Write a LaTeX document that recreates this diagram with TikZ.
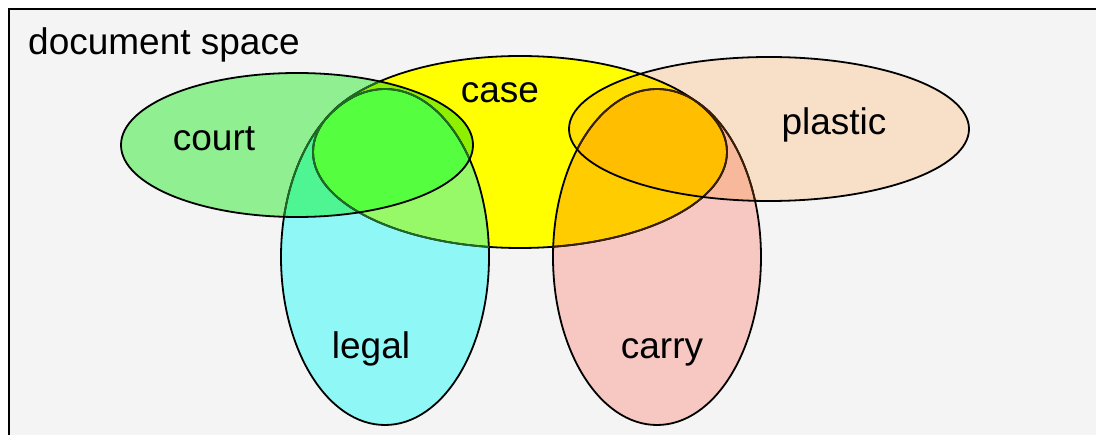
\documentclass[tikz,border=0pt]{standalone}
\usepackage{fontspec}
\setmainfont{Liberation Sans}
\definecolor{bggray}{HTML}{F4F4F4}
\definecolor{ccourt}{HTML}{90EF90}
\definecolor{ccase}{HTML}{FFFF00}
\definecolor{clegal}{HTML}{8FF8F7}
\definecolor{ccarry}{HTML}{F7C8C1}
\definecolor{cplastic}{HTML}{F7DFC8}
\definecolor{ccourtcase}{HTML}{8EF000}
\definecolor{ccourtlegal}{HTML}{4FF592}
\definecolor{ccaselegal}{HTML}{97F968}
\definecolor{ctripleL}{HTML}{55FF3F}
\definecolor{ccasecarry}{HTML}{FFCC00}
\definecolor{ccaseplastic}{HTML}{FFE000}
\definecolor{cplasticcarry}{HTML}{F8B89C}
\definecolor{ctripleR}{HTML}{FFBE00}
\definecolor{dgreen}{HTML}{1E6A26}
\definecolor{dbrown}{HTML}{3A1E06}
\tikzset{
  outline/.style={line width=1.8pt},
  lbl/.style={font=\fontsize{37}{40}\selectfont, inner sep=0pt},
}
\def\pcourt{(297,145) ellipse [x radius=176pt, y radius=72pt]}
\def\pcase{(520,152) ellipse [x radius=207pt, y radius=96pt]}
\def\plegal{(385,257) ellipse [x radius=104pt, y radius=168pt]}
\def\pcarry{(657,257) ellipse [x radius=104pt, y radius=168pt]}
\def\pplastic{(769,129) ellipse [x radius=200pt, y radius=72pt]}
\begin{document}
\begin{tikzpicture}[x=1pt,y=-1pt]
\useasboundingbox (0,0) rectangle (1096,435);
\clip (0,0) rectangle (1096,435);
\fill[white] (0,0) rectangle (1096,435);
\draw[fill=bggray, line width=2pt] (9,8.7) rectangle (1120,460);
% base fills
\fill[ccase] \pcase;
\fill[clegal] \plegal;
\fill[ccourt] \pcourt;
\fill[ccarry] \pcarry;
\fill[cplastic] \pplastic;
% pairwise overlaps
\begin{scope}\clip \pcourt; \fill[ccourtcase] \pcase; \end{scope}
\begin{scope}\clip \pcourt; \fill[ccourtlegal] \plegal; \end{scope}
\begin{scope}\clip \pcase; \fill[ccaselegal] \plegal; \end{scope}
\begin{scope}\clip \pcourt; \clip \pcase; \fill[ctripleL] \plegal; \end{scope}
\begin{scope}\clip \pcase; \fill[ccasecarry] \pcarry; \end{scope}
\begin{scope}\clip \pcase; \fill[ccaseplastic] \pplastic; \end{scope}
\begin{scope}\clip \pplastic; \fill[cplasticcarry] \pcarry; \end{scope}
\begin{scope}\clip \pcase; \clip \pplastic; \fill[ctripleR] \pcarry; \end{scope}
% outlines
\draw[outline] \pcase;
\draw[outline] \plegal;
\draw[outline] \pcarry;
\begin{scope}\clip \pcourt; \draw[outline, dgreen] \pcase; \draw[outline, dgreen] \plegal; \end{scope}
\begin{scope}\clip \plegal; \draw[outline, dgreen] \pcase; \end{scope}
\begin{scope}\clip \pcarry; \draw[outline, dbrown] \pcase; \end{scope}
\begin{scope}\clip \pplastic; \draw[outline, dbrown] \pcarry; \end{scope}
\draw[outline] \pcourt;
\draw[outline] \pplastic;
% labels
\node[lbl, anchor=base west] (docspace) at (28,55) {document space};
\node[lbl, anchor=base] (court) at (214,151) {court};
\node[lbl, anchor=base] (case) at (500,103) {case};
\node[lbl, anchor=base] (plastic) at (834,135) {plastic};
\node[lbl, anchor=base] (legal) at (371,359) {legal};
\node[lbl, anchor=base] (carry) at (662,359) {carry};
\end{tikzpicture}
\end{document}
